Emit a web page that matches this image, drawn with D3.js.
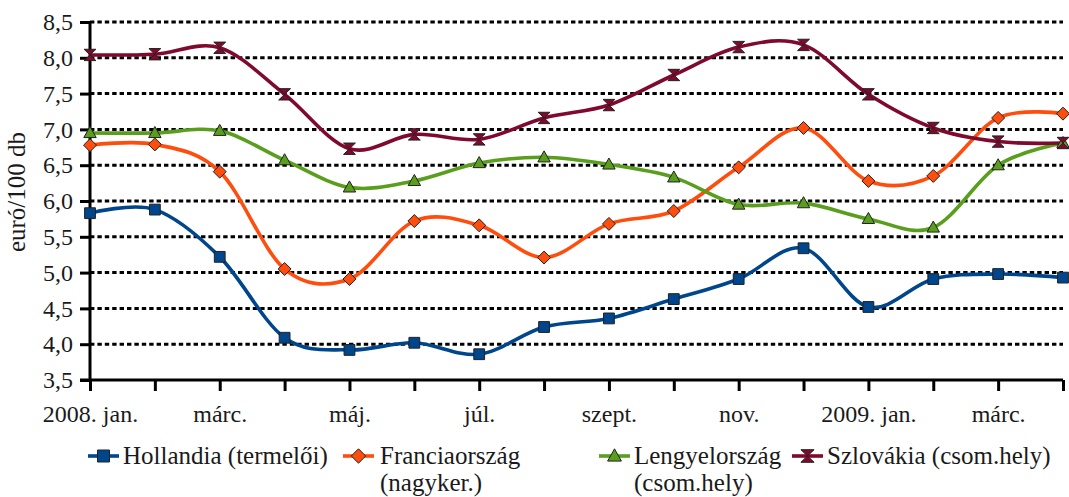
<!DOCTYPE html>
<html>
<head>
<meta charset="utf-8">
<script src="https://cdn.jsdelivr.net/npm/d3@7"></script>
<style>
  html, body { margin: 0; padding: 0; background: #fff; }
  svg { display: block; }
  svg text { font-family: "Liberation Serif", "Tinos", "Times New Roman", "DejaVu Serif", "Noto Serif", serif !important; fill: #1a1a1a; }
</style>
</head>
<body>
<svg id="chart" width="1069" height="497"></svg>
<script>
// ---- data ----
const months = ["2008. jan.", "febr.", "márc.", "ápr.", "máj.", "jún.", "júl.", "aug.",
                "szept.", "okt.", "nov.", "dec.", "2009. jan.", "febr.", "márc.", "ápr."];
const shownTickEvery = 2;
const yTicks = [3.5, 4.0, 4.5, 5.0, 5.5, 6.0, 6.5, 7.0, 7.5, 8.0, 8.5];

const hollandia     = [5.83, 5.88, 5.22, 4.09, 3.92, 4.02, 3.86, 4.24, 4.36, 4.63, 4.91, 5.34, 4.52, 4.91, 4.98, 4.93];
const franciaorszag = [6.78, 6.79, 6.41, 5.05, 4.91, 5.72, 5.66, 5.21, 5.68, 5.86, 6.47, 7.02, 6.28, 6.35, 7.16, 7.22];
const lengyelorszag = [6.95, 6.95, 6.98, 6.57, 6.19, 6.28, 6.53, 6.61, 6.51, 6.33, 5.95, 5.97, 5.75, 5.63, 6.50, 6.81];
const szlovakia     = [8.04, 8.05, 8.14, 7.49, 6.73, 6.93, 6.86, 7.16, 7.34, 7.76, 8.15, 8.18, 7.49, 7.02, 6.83, 6.81];

const seriesNames = [["Hollandia (termelői)"], ["Franciaország", "(nagyker.)"], ["Lengyelország", "(csom.hely)"], ["Szlovákia (csom.hely)"]];
const seriesColors = ["#00468C", "#FF4D0D", "#5A9E1E", "#7F0A2E"];
const seriesMarkers = ["square", "diamond", "triangle", "hourglass"];
const seriesValues = [hollandia, franciaorszag, lengyelorszag, szlovakia];

// ---- layout ----
const svg = d3.select("#chart");
const plotL = 90, plotR = 1063, plotT = 22, plotB = 380;
const serif = "'Liberation Serif', Tinos, 'Times New Roman', 'DejaVu Serif', serif";

const x = d3.scalePoint().domain(d3.range(months.length)).range([plotL, plotR]).padding(0);
const y = d3.scaleLinear().domain([3.5, 8.5]).range([plotB, plotT]);

// gridlines
svg.append("g").selectAll("line").data(yTicks.filter(v => v > 3.5)).join("line")
  .attr("x1", plotL).attr("x2", plotR)
  .attr("y1", d => y(d)).attr("y2", d => y(d))
  .attr("stroke", "#000").attr("stroke-width", 3)
  .attr("stroke-dasharray", "4.4,3");

// y axis
const yAxis = d3.axisLeft(y).tickValues(yTicks)
  .tickFormat(d => d3.format(".1f")(d).replace(".", ","))
  .tickSize(10).tickPadding(7);
const gy = svg.append("g").attr("transform", `translate(${plotL},0)`).call(yAxis)
  .attr("font-family", serif);
gy.select(".domain").attr("stroke", "#000").attr("stroke-width", 3).attr("d", `M0,${plotT}V${plotB}`);
gy.selectAll(".tick line").attr("stroke", "#000").attr("stroke-width", 3);
gy.selectAll(".tick text").attr("font-size", 24).attr("fill", "#1a1a1a");

// x axis
const xAxis = d3.axisBottom(x)
  .tickFormat(i => (i % shownTickEvery === 0 ? months[i] : ""))
  .tickSize(11).tickPadding(14);
const gx = svg.append("g").attr("transform", `translate(0,${plotB})`).call(xAxis)
  .attr("font-family", serif);
gx.select(".domain").attr("stroke", "#000").attr("stroke-width", 3).attr("d", `M${plotL - 10},0H${plotR}`);
gx.selectAll(".tick line").attr("stroke", "#000").attr("stroke-width", 3);
gx.selectAll(".tick text").attr("font-size", 24).attr("fill", "#1a1a1a");

// y label
svg.append("text")
  .attr("transform", "translate(25,192) rotate(-90)")
  .attr("text-anchor", "middle")
  .attr("font-family", serif)
  .attr("font-size", 25)
  .text("euró/100 db");

// markers
function markerPath(type, s) {
  switch (type) {
    case "square": return `M${-s},${-s}H${s}V${s}H${-s}Z`;
    case "diamond": return `M0,${-s * 1.2}L${s * 1.2},0L0,${s * 1.2}L${-s * 1.2},0Z`;
    case "triangle": return `M0,${-s * 1.2}L${s * 1.15},${s * 0.85}L${-s * 1.15},${s * 0.85}Z`;
    case "hourglass": return `M${-s * 1.1},${-s * 1.05}H${s * 1.1}L${-s * 1.1},${s * 1.05}H${s * 1.1}Z`;
  }
}

const line = d3.line()
  .x((d, i) => x(i))
  .y(d => y(d))
  .curve(d3.curveCardinal.tension(0));

seriesValues.forEach((vals, k) => {
  svg.append("path")
    .datum(vals)
    .attr("fill", "none")
    .attr("stroke", seriesColors[k])
    .attr("stroke-width", 3.6)
    .attr("stroke-linejoin", "round")
    .attr("d", line);
});
seriesValues.forEach((vals, k) => {
  svg.append("g").selectAll("path").data(vals).join("path")
    .attr("transform", (d, i) => `translate(${x(i)},${y(d)})`)
    .attr("d", markerPath(seriesMarkers[k], 5.4))
    .attr("fill", seriesColors[k])
    .attr("stroke", "#222")
    .attr("stroke-width", 1);
});

// legend
const legendItems = [
  { x0: 88, tx: 123 },
  { x0: 343, tx: 380 },
  { x0: 599, tx: 634 },
  { x0: 792, tx: 827 }
];
const lg = svg.append("g").attr("font-family", serif);
legendItems.forEach((it, k) => {
  const g = lg.append("g");
  const cy = 456;
  g.append("line").attr("x1", it.x0).attr("x2", it.x0 + 31)
    .attr("y1", cy).attr("y2", cy)
    .attr("stroke", seriesColors[k]).attr("stroke-width", 3.6);
  g.append("path")
    .attr("transform", `translate(${it.x0 + 15.5},${cy})`)
    .attr("d", markerPath(seriesMarkers[k], 6))
    .attr("fill", seriesColors[k]).attr("stroke", "#222").attr("stroke-width", 1);
  const t = g.append("text").attr("x", it.tx).attr("y", 464).attr("font-size", 25);
  seriesNames[k].forEach((s, j) => {
    t.append("tspan").attr("x", it.tx).attr("dy", j === 0 ? 0 : 27).text(s);
  });
});
</script>
</body>
</html>
